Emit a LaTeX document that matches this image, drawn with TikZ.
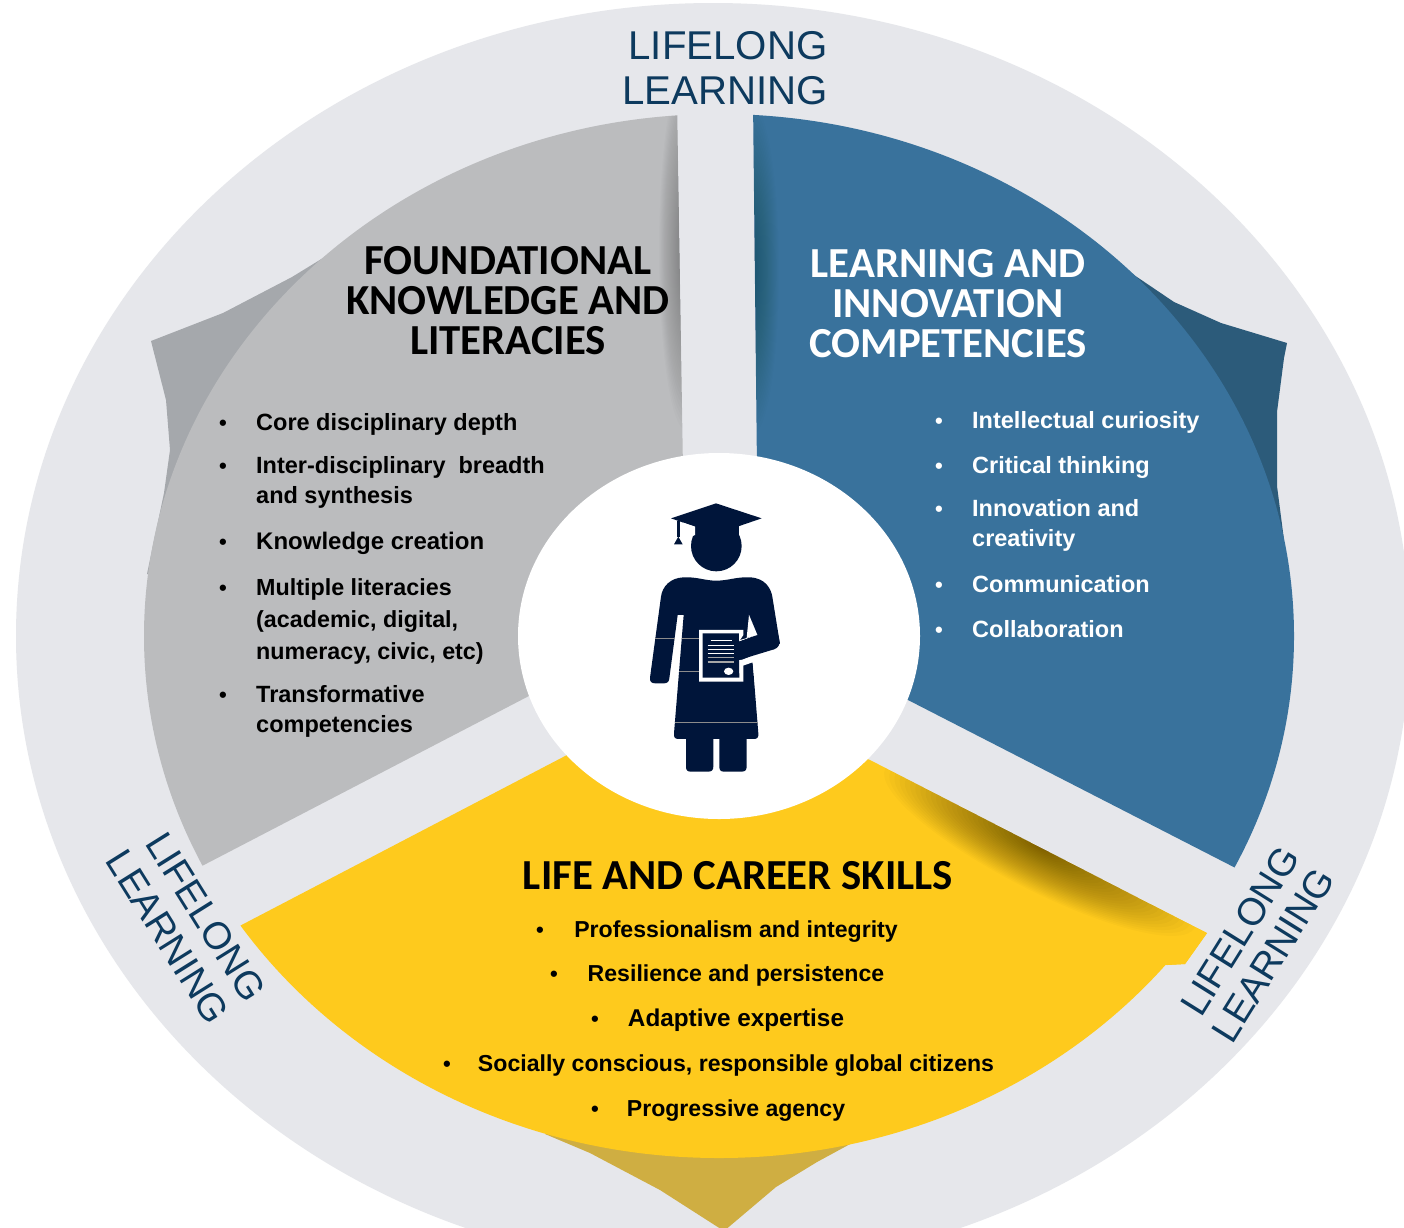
\documentclass[tikz,border=0pt]{standalone}
\usepackage{fontspec}
\setmainfont{Liberation Sans}
\newfontfamily\headfont{Carlito}
\definecolor{ringgrey}{HTML}{E6E7EB}
\definecolor{sectgrey}{HTML}{BBBCBE}
\definecolor{flapgrey}{HTML}{A5A8AC}
\definecolor{sectblue}{HTML}{39729C}
\definecolor{flapblue}{HTML}{2C5B7A}
\definecolor{sectyellow}{HTML}{FECA1D}
\definecolor{flapyellow}{HTML}{CFAE42}
\definecolor{navytext}{HTML}{0D3A5E}
\definecolor{figurenavy}{HTML}{00153A}
\newcommand{\stk}[1]{\begin{tabular}[t]{@{}l@{}}#1\end{tabular}}
\tikzset{
  heading/.style={inner sep=0pt,align=center,font=\headfont\bfseries\fontsize{42.8}{40}\selectfont},
  bodyitem/.style={inner sep=0pt,anchor=base west,font=\bfseries\fontsize{23.5}{30}\selectfont},
  bodymid/.style={inner sep=0pt,anchor=base,font=\bfseries\fontsize{23.1}{30}\selectfont},
  bulletmark/.style={inner sep=0pt,anchor=base,font=\bfseries\fontsize{22}{24}\selectfont},
  lifelong/.style={inner sep=0pt,text=navytext,font=\fontsize{40.2}{44}\selectfont},
  lifelongturned/.style={inner sep=0pt,text=navytext,font=\fontsize{38.3}{44}\selectfont},
}
\newcommand{\sectorclip}{(719,636) ellipse [x radius=575,y radius=522]}
\begin{document}
\begin{tikzpicture}[x=1pt,y=-1pt]
\useasboundingbox (0,0) rectangle (1404,1227);
\clip (0,0) rectangle (1404,1227);
\fill[white] (0,0) rectangle (1404,1227);
% outer ring
\fill[ringgrey] (713,636) ellipse [x radius=697,y radius=633];
% flaps
\fill[flapgrey] (323,258) -- (292,277) -- (223,313) -- (151,341) -- (166,400) -- (170,450) -- (164,493) -- (147,574) -- (220,573) -- (360,280) -- cycle;
\fill[flapblue] (1125,268) -- (1134,275) -- (1174,302) -- (1221,323) -- (1287,343) -- (1284,358) -- (1277,412) -- (1277,486) -- (1284,540) -- (1200,520) -- cycle;
\fill[flapyellow] (545,1134) -- (590,1153) -- (660,1190) -- (724,1231) -- (776,1187) -- (817,1162) -- (852,1143) -- (700,1100) -- cycle;
% yellow tip past the arc
\fill[sectyellow] (1207,933) -- (1185,964) -- (1167,965) -- (1100,950) -- (1150,904) -- cycle;
% grey sector
\begin{scope}
  \clip \sectorclip;
  \clip (677,100) -- (683,470) -- (700,600) -- (527,697) -- (100,919) -- (0,919) -- (0,100) -- cycle;
  \fill[sectgrey] (0,0) rectangle (1404,1227);
  \foreach \i in {1,...,30}
    \fill[black,opacity=.010] (686,250) ellipse [x radius=\i*.9,y radius=\i*6];
\end{scope}
% blue sector
\begin{scope}
  \clip \sectorclip;
  \clip (753,100) -- (757,470) -- (740,600) -- (908,700) -- (1337,920) -- (1404,920) -- (1404,100) -- cycle;
  \fill[sectblue] (0,0) rectangle (1404,1227);
  \foreach \i in {1,...,30}
    \fill[black,opacity=.007] (752,270) ellipse [x radius=\i*.9,y radius=\i*5.5];
\end{scope}
% yellow sector
\begin{scope}
  \clip (719,700) -- (567,755) -- (140,978) -- (140,1227) -- (1300,1227) -- (1300,981) -- (870,760) -- cycle;
  \begin{scope}
    \clip \sectorclip (1207,933) -- (1185,964) -- (1167,965) -- (1100,950) -- (1150,904) -- cycle;
    \fill[sectyellow] (0,0) rectangle (1404,1227);
    \foreach \i in {1,...,30}
      \fill[black,opacity=.021,rotate around={-27.2:(1040,848)}] (1040,848) ellipse [x radius=\i*5.8,y radius=\i*1.4];
  \end{scope}
\end{scope}
% centre
\fill[white] (719,636) ellipse [x radius=201,y radius=183];
% graduate figure
\begin{scope}[shift={(600,480)},x=0.3333pt,y=-0.3333pt]
  \fill[figurenavy] (250,292) .. controls (290,290) and (315,302) .. (348,302) .. controls (385,302) and (410,290) .. (450,292)
    .. controls (495,294) and (513,325) .. (517,350) -- (538,480) .. controls (540,495) and (535,503) .. (522,508)
    -- (458,530) -- (458,548) -- (475,760) .. controls (476,772) and (472,777) .. (462,777) -- (440,777) -- (440,860)
    .. controls (440,870) and (435,875) .. (425,875) -- (372,875) .. controls (362,875) and (358,870) .. (358,860)
    -- (358,777) -- (340,777) -- (340,860) .. controls (340,870) and (335,875) .. (325,875) -- (272,875)
    .. controls (262,875) and (258,870) .. (258,860) -- (258,777) -- (235,777) .. controls (225,777) and (221,772) .. (222,760)
    -- (251,405) -- (233,405) -- (208,595) .. controls (207,605) and (202,610) .. (192,610) -- (165,610)
    .. controls (154,610) and (149,604) .. (150,593) -- (183,350) .. controls (187,320) and (210,294) .. (250,292) -- cycle;
  \fill[white] (447,405) -- (472,465) -- (420,480) -- (420,560) -- (458,547) -- (470,660) -- (520,560) -- (520,500) -- (458,526) -- (425,540) -- (417,540) -- (417,485) -- (472,465) -- cycle;
  \fill[white] (297,450) -- (430,450) -- (430,465) -- (417,485) -- (417,540) -- (430,540) -- (430,605) -- (297,605) -- cycle;
  \fill[figurenavy] (308,460) -- (417,460) -- (417,485) -- (470,470) -- (475,505) -- (417,540) -- (418,593) -- (308,593) -- cycle;
  \fill[figurenavy] (417,485) -- (472,465) -- (488,400) -- (520,400) -- (540,490) -- (522,508) -- (417,540) -- cycle;
  \fill[white] (447,405) -- (472,465) -- (440,474) -- cycle;
  % cap, head
  \fill[figurenavy] (349,198) circle [radius=76];
  \fill[figurenavy] (285,135) -- (285,175) -- (417,175) -- (417,135) -- cycle;
  \fill[figurenavy] (348,70) -- (485,115) -- (348,162) -- (213,115) -- cycle;
  \fill[white] (250,128) -- (285,140) -- (285,165) -- (278,168) -- (246,130) -- cycle;
  \fill[figurenavy] (232,122) rectangle (239,172);
  \fill[figurenavy] (235,170) -- (248,193) -- (222,193) -- cycle;
  % certificate
  \draw[white,line width=1pt] (332,481) -- (395,481);
  \draw[white,line width=1pt] (323,496) -- (402,496);
  \draw[white,line width=1pt] (323,508) -- (402,508);
  \draw[white,line width=1pt] (323,520) -- (402,520);
  \draw[black!35,line width=1.2pt] (323,533) -- (402,533);
  \draw[black!35,line width=1.2pt] (323,546) -- (402,546);
  \fill[white] (386,574) ellipse [x radius=14,y radius=11];
  % seams
  \draw[black!45,line width=.35pt] (165,476) -- (225,476);
  \draw[black!45,line width=.35pt] (245,476) -- (297,476);
  \draw[black!45,line width=.35pt] (238,574) -- (297,574);
  \draw[black!45,line width=.35pt] (225,727) -- (473,727);
\end{scope}
% LIFELONG LEARNING
\node[lifelong] (topa) at (728,46) {LIFELONG};
\node[lifelong] (topb) at (725,91) {LEARNING};
\node[lifelongturned,rotate=58] (righta) at (1240,931) {LIFELONG};
\node[lifelongturned,rotate=58] (rightb) at (1273,955) {LEARNING};
\node[lifelongturned,rotate=-58] (lefta) at (206,917) {LIFELONG};
\node[lifelongturned,rotate=-58] (leftb) at (168,937) {LEARNING};
% headings
\node[heading] (hgrey) at (508,301) {FOUNDATIONAL\\KNOWLEDGE AND\\LITERACIES};
\node[heading,text=white] (hblue) at (948,304) {LEARNING AND\\INNOVATION\\COMPETENCIES};
\node[heading] (hyellow) at (738,876) {LIFE AND CAREER SKILLS};
% grey list
\node[bulletmark] (gb1) at (223,430) {•};
\node[bodyitem] (g1) at (256,430) {Core disciplinary depth};
\node[bulletmark] (gb2) at (223,473) {•};
\node[bodyitem] (g2) at (256,473) {\stk{Inter-disciplinary\ \ breadth\\and synthesis}};
\node[bulletmark] (gb3) at (223,549) {•};
\node[bodyitem,font=\bfseries\fontsize{24}{30}\selectfont] (g3) at (256,549) {Knowledge creation};
\node[bulletmark] (gb4) at (223,595) {•};
\node[bodyitem,font=\bfseries\fontsize{23.3}{32}\selectfont] (g4) at (256,595) {\stk{Multiple literacies\\(academic, digital,\\numeracy, civic, etc)}};
\node[bulletmark] (gb5) at (223,702) {•};
\node[bodyitem] (g5) at (256,702) {\stk{Transformative\\competencies}};
% blue list
\begin{scope}[every node/.append style={text=white}]
\node[bulletmark] (bb1) at (939,428) {•};
\node[bodyitem] (b1) at (972,428) {Intellectual curiosity};
\node[bulletmark] (bb2) at (939,473) {•};
\node[bodyitem] (b2) at (972,473) {Critical thinking};
\node[bulletmark] (bb3) at (939,516) {•};
\node[bodyitem] (b3) at (972,516) {\stk{Innovation and\\creativity}};
\node[bulletmark] (bb4) at (939,592) {•};
\node[bodyitem] (b4) at (972,592) {Communication};
\node[bulletmark] (bb5) at (939,637) {•};
\node[bodyitem] (b5) at (972,637) {Collaboration};
\end{scope}
% yellow list
\node[bulletmark] (yb1) at (540,937) {•};
\node[bodymid] (y1) at (736,937) {Professionalism and integrity};
\node[bulletmark] (yb2) at (554,981) {•};
\node[bodymid] (y2) at (736,981) {Resilience and persistence};
\node[bulletmark] (yb3) at (595,1026) {•};
\node[bodymid,font=\bfseries\fontsize{24.3}{30}\selectfont] (y3) at (736,1026) {Adaptive expertise};
\node[bulletmark] (yb4) at (447,1071) {•};
\node[bodymid] (y4) at (736,1071) {Socially conscious, responsible global citizens};
\node[bulletmark] (yb5) at (595,1116) {•};
\node[bodymid] (y5) at (736,1116) {Progressive agency};
\end{tikzpicture}
\end{document}
